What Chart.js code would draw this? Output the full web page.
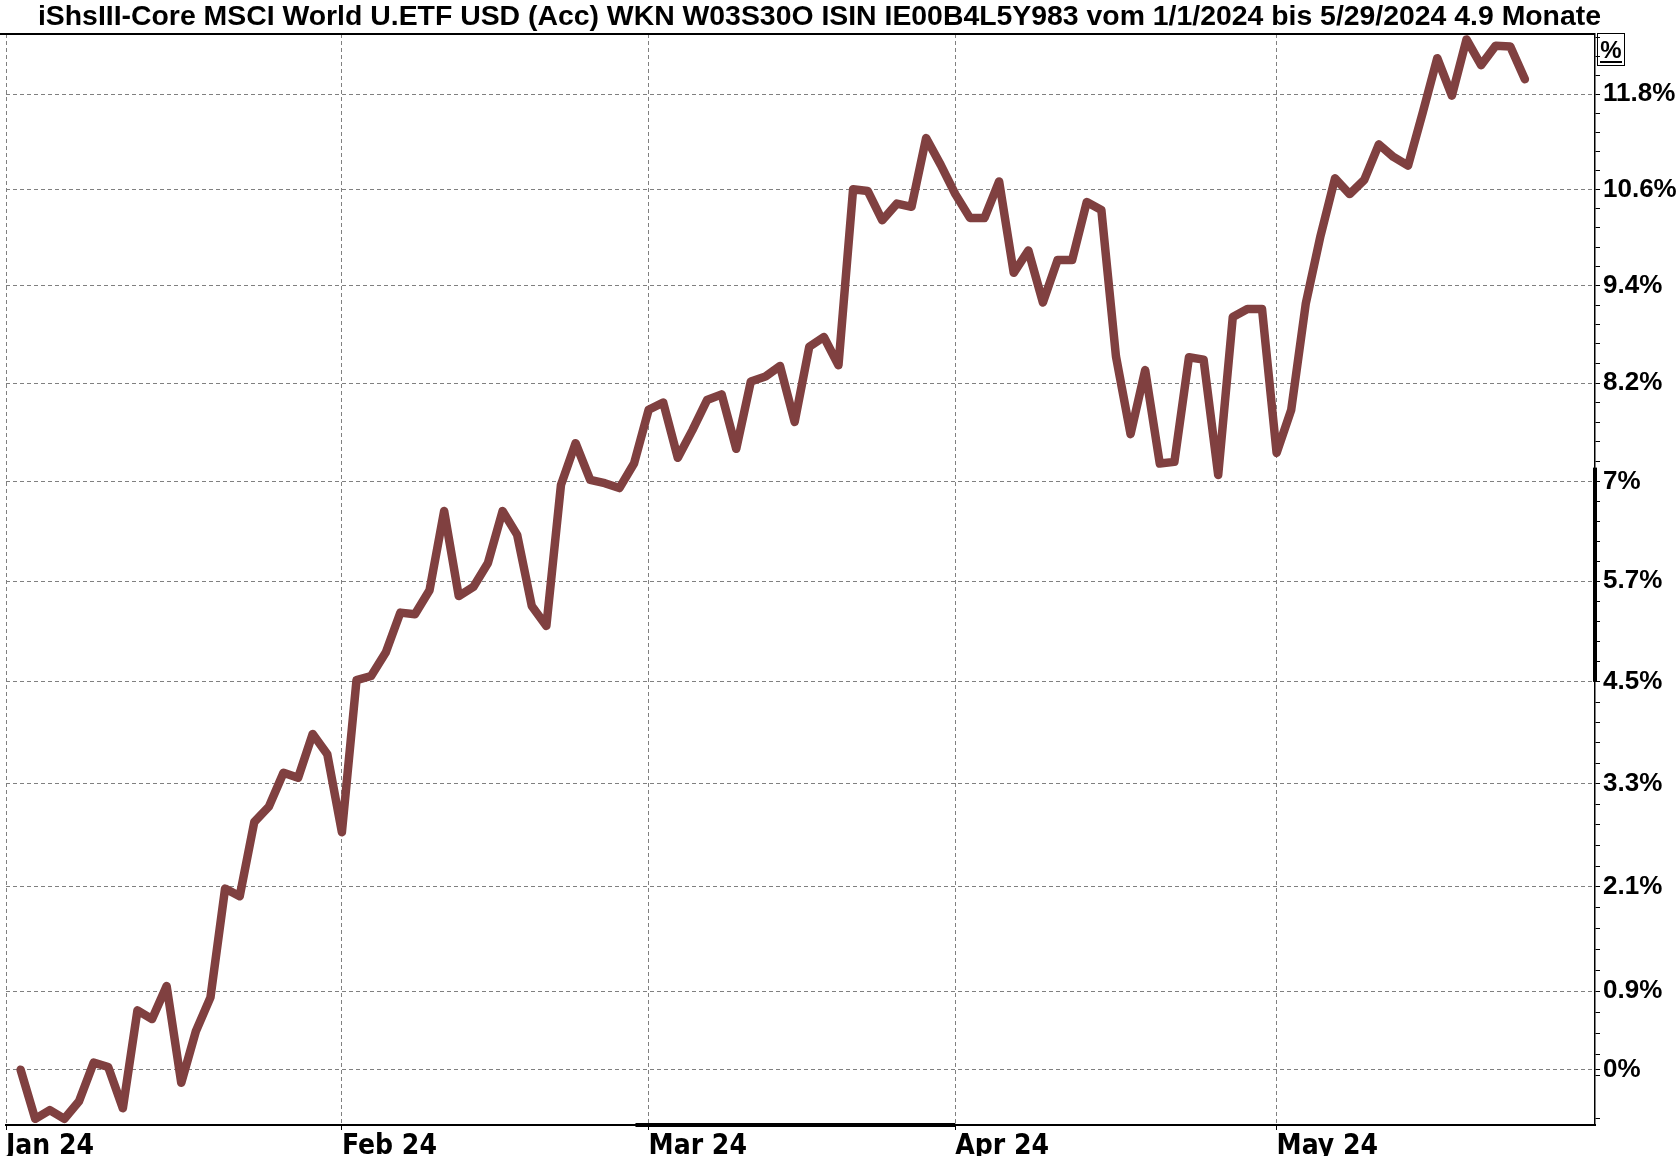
<!DOCTYPE html>
<html>
<head>
<meta charset="utf-8">
<script src="https://cdn.jsdelivr.net/npm/chart.js@4.4.1/dist/chart.umd.min.js"></script>
<style>
  html, body { margin: 0; padding: 0; background: #fff; }
  canvas { display: block; }
</style>
</head>
<body>
<canvas id="chart" width="1677" height="1156"></canvas>
<script>
// performance in % since 1/1/2024, one value per weekday starting Jan 2
const values = [
    0, -0.56, -0.46, -0.56, -0.36, 0.08, 0.03, -0.44, 0.68, 0.58,
    0.96, -0.15, 0.44, 0.83, 2.09, 2.00, 2.87, 3.05, 3.45, 3.39,
    3.91, 3.67, 2.75, 4.55, 4.60, 4.88, 5.36, 5.34, 5.63, 6.59,
    5.56, 5.67, 5.96, 6.59, 6.30, 5.44, 5.20, 6.91, 7.42, 6.97,
    6.93, 6.87, 7.17, 7.83, 7.92, 7.24, 7.58, 7.95, 8.02, 7.35,
    8.18, 8.24, 8.37, 7.68, 8.61, 8.73, 8.38, 10.58, 10.56, 10.19,
    10.40, 10.36, 11.23, 10.89, 10.52, 10.22, 10.22, 10.68, 9.53, 9.81,
    9.16, 9.69, 9.69, 10.42, 10.32, 8.49, 7.53, 8.32, 7.17, 7.19,
    8.48, 8.45, 7.03, 8.98, 9.08, 9.08, 7.30, 7.83, 9.15, 9.99,
    10.72, 10.52, 10.70, 11.15, 10.99, 10.88, 11.55, 12.25, 11.77, 12.49,
    12.16, 12.41, 12.40, 11.98
];

// weekday index of each month start (Jan 1 = 0)
const monthStarts = [0, 23, 44, 65, 87];
const monthLabels = ['Jan 24', 'Feb 24', 'Mar 24', 'Apr 24', 'May 24'];

const tickValues = [0, 0.9, 2.11, 3.32, 4.53, 5.74, 6.95, 8.16, 9.37, 10.58, 11.79];
const tickLabels = ['0%', '0.9%', '2.1%', '3.3%', '4.5%', '5.7%', '7%', '8.2%', '9.4%', '10.6%', '11.8%'];

const title = 'iShsIII-Core MSCI World U.ETF USD (Acc) WKN W03S30O ISIN IE00B4L5Y983 vom 1/1/2024 bis 5/29/2024 4.9 Monate';

const yMin = -0.63;
const yMax = 12.56;

// small minor ticks between the labelled ones
const minorStep = (tickValues[2] - tickValues[1]) / 5;
const minorTicks = [];
for (let k = -6; k <= 48; k++) {
    if (k % 5 === 0) continue;
    const v = tickValues[1] + k * minorStep;
    if (v > yMin && v < yMax) minorTicks.push(v);
}

function isMajor(level) {
    return tickValues.some(t => Math.abs(100 + t - level) < 1e-6);
}

const frame = {
    id: 'frame',
    afterDraw(chart) {
        const ctx = chart.ctx;
        const area = chart.chartArea;
        const x = chart.scales.x;
        const y = chart.scales.y;
        ctx.save();

        // title, right-aligned just past the plot's right edge
        ctx.fillStyle = '#000';
        ctx.font = 'bold 28.4px "Liberation Sans", Arial, sans-serif';
        ctx.textAlign = 'right';
        ctx.textBaseline = 'middle';
        ctx.fillText(title, area.right + 6, 17);

        ctx.strokeStyle = '#000';
        ctx.lineWidth = 2;
        ctx.beginPath();
        ctx.moveTo(0, area.top);
        ctx.lineTo(area.right, area.top);
        ctx.stroke();

        // bold parts of the axes
        ctx.lineWidth = 4;
        ctx.beginPath();
        ctx.moveTo(x.getPixelForValue(43.1), area.bottom);
        ctx.lineTo(x.getPixelForValue(65), area.bottom);
        ctx.stroke();
        ctx.beginPath();
        ctx.moveTo(area.right, y.getPixelForValue(107.12));
        ctx.lineTo(area.right, y.getPixelForValue(104.53));
        ctx.stroke();

        // % box
        const bx = area.right + 2, by = area.top - 1;
        ctx.lineWidth = 1;
        ctx.strokeRect(bx + 0.5, by + 0.5, 27, 32);
        ctx.font = 'bold 24px "Liberation Sans", Arial, sans-serif';
        ctx.textAlign = 'center';
        ctx.textBaseline = 'alphabetic';
        ctx.fillText('%', bx + 14, by + 25);
        ctx.fillRect(bx + 3, by + 28, 22, 2);
        ctx.restore();
    }
};

function initChart() {
    const points = values.map((v, i) => ({ x: i + 1, y: 100 + v }));

    new Chart(document.getElementById('chart'), {
        type: 'line',
        data: {
            datasets: [{
                data: points,
                borderColor: '#804040',
                borderWidth: 8.5,
                borderJoinStyle: 'round',
                borderCapStyle: 'round',
                pointRadius: 0,
                tension: 0,
                fill: false
            }]
        },
        options: {
            responsive: false,
            animation: false,
            layout: { padding: { left: 6, top: 34, right: 0, bottom: 0 } },
            plugins: {
                legend: { display: false },
                tooltip: { enabled: false },
                title: { display: false }
            },
            scales: {
                x: {
                    type: 'linear',
                    min: 0,
                    max: 108.8,
                    afterBuildTicks: scale => {
                        scale.ticks = monthStarts.map(v => ({ value: v }));
                    },
                    afterFit: scale => { scale.height = 31; },
                    grid: {
                        color: '#808080',
                        lineWidth: 1,
                        drawTicks: true,
                        tickLength: 5,
                        tickColor: '#000',
                        tickWidth: 1
                    },
                    border: { display: true, color: '#000', width: 2, dash: [4, 3] },
                    ticks: {
                        autoSkip: false,
                        maxRotation: 0,
                        align: 'start',
                        padding: 0,
                        color: '#000',
                        font: { family: '"Liberation Sans Narrow", "DejaVu Sans Condensed", Arial, sans-serif', size: 28, weight: 'bold' },
                        callback: (v, i) => monthLabels[i]
                    }
                },
                y: {
                    type: 'logarithmic',
                    position: 'right',
                    min: 100 + yMin,
                    max: 100 + yMax,
                    afterBuildTicks: scale => {
                        const all = tickValues.concat(minorTicks).sort((a, b) => a - b);
                        scale.ticks = all.map(v => ({ value: 100 + v }));
                    },
                    afterFit: scale => { scale.width = 82; },
                    grid: {
                        color: ctx => (ctx.tick && isMajor(ctx.tick.value)) ? '#808080' : 'rgba(0,0,0,0)',
                        lineWidth: 1,
                        drawTicks: true,
                        tickLength: 5,
                        tickColor: '#000',
                        tickWidth: 1
                    },
                    border: { display: true, color: '#000', width: 1.5, dash: [4, 3] },
                    ticks: {
                        autoSkip: false,
                        padding: 3,
                        color: '#000',
                        font: { family: '"Liberation Sans", Arial, sans-serif', size: 26, weight: 'bold' },
                        callback: v => {
                            const i = tickValues.findIndex(t => Math.abs(100 + t - v) < 1e-6);
                            return i >= 0 ? tickLabels[i] : '';
                        }
                    }
                }
            }
        },
        plugins: [frame]
    });
}

document.addEventListener('DOMContentLoaded', initChart);
</script>
</body>
</html>
